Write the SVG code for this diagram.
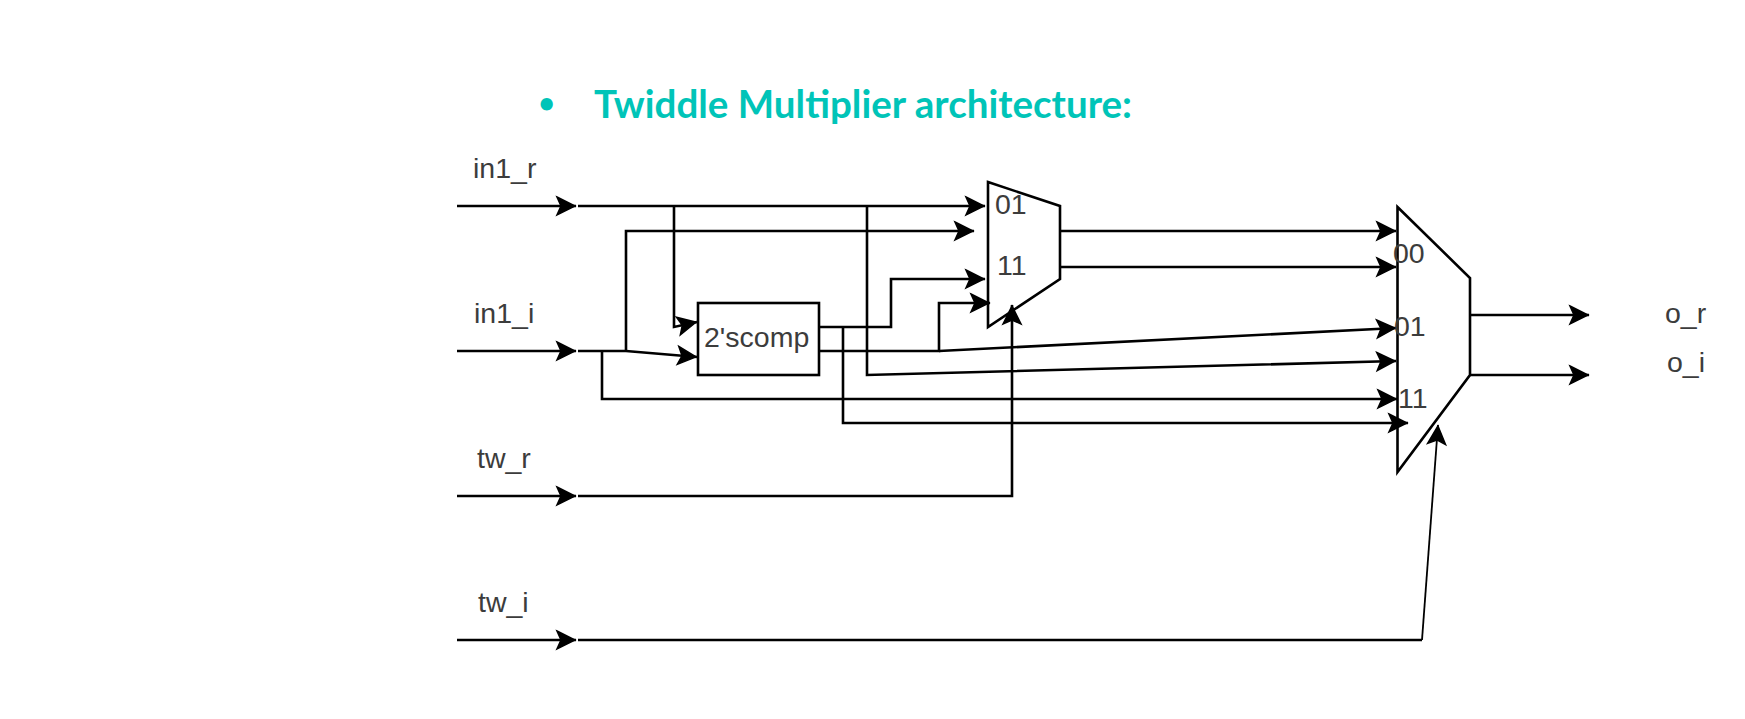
<svg xmlns="http://www.w3.org/2000/svg" width="1745" height="719" viewBox="0 0 1745 719">
<style>
text{font-family:"Liberation Sans",Arial,sans-serif;font-size:28.500px;fill:#3c3c3c}
.title{font-family:Lato,"Open Sans",sans-serif;font-weight:700;font-size:39px;fill:#00c4b8}
.bullet{font-family:Lato,"Open Sans",sans-serif;font-weight:700;font-size:28px;fill:#00c4b8}
.c{fill:none;stroke:#000;stroke-width:2.600}
.t{fill:none;stroke:#000;stroke-width:1.800}
.a{marker-end:url(#arrow)}
.n{fill:none;stroke:#000;stroke-width:2.600;stroke-linejoin:miter}
</style>
<defs>
<marker id="arrow" markerUnits="userSpaceOnUse" markerWidth="26" markerHeight="26" refX="21" refY="13" orient="auto">
<path d="M2,4L20,13L2,22L6,13Z" fill="#000" stroke="#000" stroke-width="1.500"/>
</marker>
</defs>
<rect width="1745" height="719" fill="#fff"/>
<g id="title">
<text class="bullet" x="538.500" y="113">•</text>
<text class="title" x="594" y="118" textLength="538" lengthAdjust="spacingAndGlyphs">Twiddle Multiplier architecture:</text>
</g>
<g id="connectors">
<path class="c a" d="M457,206H576"/>
<path class="c a" d="M457,351H576"/>
<path class="c a" d="M457,496H576"/>
<path class="c a" d="M457,640H576"/>
<path class="c a" d="M578,206H985"/>
<path class="c a" d="M674,206V327L697,322"/>
<path class="c a" d="M626,351V231H974"/>
<path class="c a" d="M578,351H626L697,357"/>
<path class="c a" d="M602,351V399H1397"/>
<path class="c a" d="M819,327H891V279H985"/>
<path class="c a" d="M843,327V423H1408"/>
<path class="c a" d="M819,351H939V303H990"/>
<path class="c a" d="M939,351L1396,328"/>
<path class="c a" d="M867,206V375L1396,361"/>
<path class="c a" d="M578,496H1012V305"/>
<path class="c a" d="M1060,231H1396"/>
<path class="c a" d="M1060,267H1396"/>
<path class="c" d="M578,640H1422"/>
<path class="t a" d="M1422,640L1438,425"/>
<path class="c a" d="M1470,315H1589"/>
<path class="c a" d="M1470,375H1589"/>
</g>
<g id="in1_r"><text x="473" y="178">in1_r</text></g>
<g id="in1_i"><text x="474" y="323">in1_i</text></g>
<g id="tw_r"><text x="477" y="468">tw_r</text></g>
<g id="tw_i"><text x="478" y="612">tw_i</text></g>
<g id="o_r"><text x="1665" y="323">o_r</text></g>
<g id="o_i"><text x="1667" y="372">o_i</text></g>
<g id="comp"><rect class="n" x="698" y="303" width="121" height="72"/><text x="704" y="347">2'scomp</text></g>
<g id="mux1"><path class="n" d="M988,182L1060,206V279L988,327Z"/><text x="995" y="214">01</text><text x="997" y="275">11</text></g>
<g id="mux2"><path class="n" d="M1397.500,207L1470,278V375L1397.500,472Z"/><text x="1393" y="263">00</text><text x="1394" y="336">01</text><text x="1398" y="408">11</text></g>
</svg>
